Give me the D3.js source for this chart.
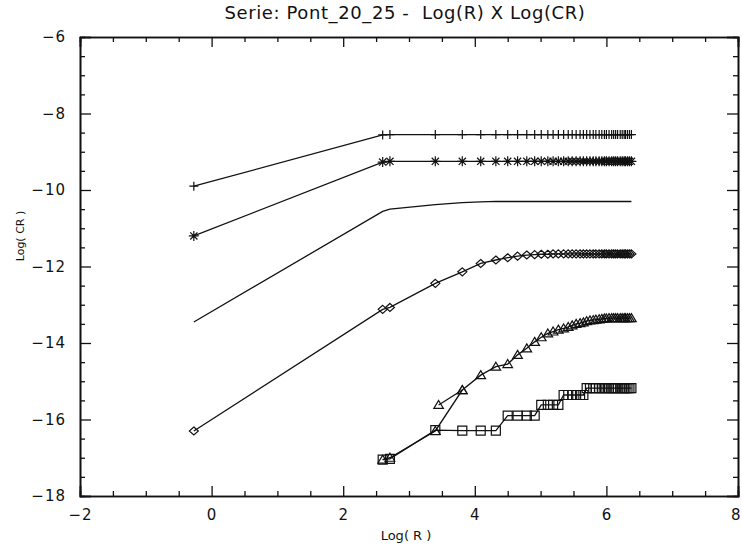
<!DOCTYPE html>
<html><head><meta charset="utf-8">
<script src="https://cdn.jsdelivr.net/npm/d3@7"></script>
<style>body{margin:0;background:#fff}svg{display:block}</style>
</head><body>
<svg id="c" width="742" height="548"></svg>
<script>
const titleText = "Serie: Pont_20_25 -  Log(R) X Log(CR)";
const xLabel = "Log( R )";
const yLabel = "Log( CR )";
const xTicks = [-2, 0, 2, 4, 6, 8];
const yTicks = [-18, -16, -14, -12, -10, -8, -6];

const logR = [-0.27, 2.60, 2.71, 3.40, 3.81, 4.09, 4.32, 4.50, 4.65, 4.79, 4.91, 5.01, 5.11, 5.19, 5.27, 5.35, 5.42, 5.48, 5.54, 5.60, 5.65, 5.70, 5.75, 5.80, 5.84, 5.89, 5.93, 5.97, 6.00, 6.04, 6.08, 6.11, 6.14, 6.17, 6.21, 6.24, 6.27, 6.29, 6.32, 6.35, 6.38];

const plusY = [-9.90, -8.56, -8.55, -8.55, -8.55, -8.55, -8.55, -8.55, -8.55, -8.55, -8.55, -8.55, -8.55, -8.55, -8.55, -8.55, -8.55, -8.55, -8.55, -8.55, -8.55, -8.55, -8.55, -8.55, -8.55, -8.55, -8.55, -8.55, -8.55, -8.55, -8.55, -8.55, -8.55, -8.55, -8.55, -8.55, -8.55, -8.55, -8.55, -8.55, -8.55];
const asteriskY = [-11.20, -9.27, -9.25, -9.25, -9.25, -9.25, -9.25, -9.25, -9.25, -9.25, -9.25, -9.25, -9.25, -9.25, -9.25, -9.25, -9.25, -9.25, -9.25, -9.25, -9.25, -9.25, -9.25, -9.25, -9.25, -9.25, -9.25, -9.25, -9.25, -9.25, -9.25, -9.25, -9.25, -9.25, -9.25, -9.25, -9.25, -9.25, -9.25, -9.25, -9.25];
const plainY = [-13.45, -10.56, -10.50, -10.38, -10.33, -10.31, -10.30, -10.30, -10.30, -10.30, -10.30, -10.30, -10.30, -10.30, -10.30, -10.30, -10.30, -10.30, -10.30, -10.30, -10.30, -10.30, -10.30, -10.30, -10.30, -10.30, -10.30, -10.30, -10.30, -10.30, -10.30, -10.30, -10.30, -10.30, -10.30, -10.30, -10.30, -10.30, -10.30, -10.30, -10.30];
const diamondY = [-16.30, -13.12, -13.07, -12.44, -12.14, -11.92, -11.83, -11.77, -11.73, -11.70, -11.69, -11.68, -11.68, -11.67, -11.67, -11.67, -11.67, -11.67, -11.67, -11.67, -11.67, -11.67, -11.67, -11.67, -11.67, -11.67, -11.67, -11.67, -11.67, -11.67, -11.67, -11.67, -11.67, -11.67, -11.67, -11.67, -11.67, -11.67, -11.67, -11.67, -11.67];
const triangleY = [null, -17.05, -17.00, -16.30, -15.23, -14.84, -14.62, -14.55, -14.31, -14.14, -13.97, -13.85, -13.75, -13.70, -13.65, -13.62, -13.58, -13.54, -13.50, -13.48, -13.46, -13.43, -13.41, -13.40, -13.39, -13.38, -13.37, -13.36, -13.36, -13.35, -13.35, -13.35, -13.35, -13.35, -13.35, -13.35, -13.35, -13.35, -13.35, -13.35, -13.35];
const triangleBX = [3.45, 3.81];
const triangleBY = [-15.62, -15.23];
const squareY = [null, -17.05, -17.03, -16.28, -16.29, -16.29, -16.29, -15.90, -15.90, -15.90, -15.90, -15.62, -15.62, -15.62, -15.62, -15.36, -15.36, -15.36, -15.36, -15.36, -15.36, -15.18, -15.18, -15.18, -15.18, -15.18, -15.18, -15.18, -15.18, -15.18, -15.18, -15.18, -15.18, -15.18, -15.18, -15.18, -15.18, -15.18, -15.18, -15.18, -15.18];

const L = 80, R = 738, T = 37, B = 496;
const FONT = "DejaVu Sans, Liberation Sans, sans-serif";
const INK = "#111";

const svg = d3.select("#c");
const x = d3.scaleLinear().domain([-2, 8]).range([L, R]);
const y = d3.scaleLinear().domain([-18, -6]).range([B, T]);

const xMinor = d3.range(-2, 8.001, 0.5).filter(v => !xTicks.includes(v));
const yMinor = d3.range(-18, -5.999, 0.5).filter(v => !yTicks.includes(v));
const fmt = v => (v < 0 ? "\u2212" : "") + Math.abs(v);

function styleAxis(g) {
  g.select(".domain").attr("stroke", INK).attr("stroke-width", 1.6);
  g.selectAll(".tick line").attr("stroke", INK).attr("stroke-width", 1.3);
  g.selectAll(".tick text").attr("font-family", FONT).attr("font-size", 15)
    .attr("letter-spacing", 1).attr("fill", INK);
}

// bottom
const xAxisG = svg.append("g").attr("transform", `translate(0,${B})`)
  .call(d3.axisBottom(x).tickValues(xTicks).tickSize(-10).tickPadding(13).tickFormat(fmt))
  .call(styleAxis);
// keep the last label (8) inside the window, as in the reference where it sits on the edge
xAxisG.selectAll(".tick text").filter(d => d === 8)
  .attr("text-anchor", "end").attr("dx", 3);
svg.append("g").attr("transform", `translate(0,${B})`)
  .call(d3.axisBottom(x).tickValues(xMinor).tickSize(-5).tickFormat(""))
  .call(styleAxis);
// top
svg.append("g").attr("transform", `translate(0,${T})`)
  .call(d3.axisTop(x).tickValues(xTicks).tickSize(-10).tickFormat(""))
  .call(styleAxis);
svg.append("g").attr("transform", `translate(0,${T})`)
  .call(d3.axisTop(x).tickValues(xMinor).tickSize(-5).tickFormat(""))
  .call(styleAxis);
// left
svg.append("g").attr("transform", `translate(${L},0)`)
  .call(d3.axisLeft(y).tickValues(yTicks).tickSize(-11).tickPadding(14).tickFormat(fmt))
  .call(styleAxis);
svg.append("g").attr("transform", `translate(${L},0)`)
  .call(d3.axisLeft(y).tickValues(yMinor).tickSize(-5).tickFormat(""))
  .call(styleAxis);
// right
svg.append("g").attr("transform", `translate(${R},0)`)
  .call(d3.axisRight(y).tickValues(yTicks).tickSize(-11).tickFormat(""))
  .call(styleAxis);
svg.append("g").attr("transform", `translate(${R},0)`)
  .call(d3.axisRight(y).tickValues(yMinor).tickSize(-5).tickFormat(""))
  .call(styleAxis);

// titles
svg.append("text").attr("x", 405).attr("y", 19).attr("text-anchor", "middle")
  .style("white-space", "pre").attr("letter-spacing", 0.6)
  .attr("font-family", FONT).attr("font-size", 18).attr("fill", INK).text(titleText);
svg.append("text").attr("x", 406).attr("y", 540).attr("text-anchor", "middle")
  .style("white-space", "pre")
  .attr("font-family", FONT).attr("font-size", 13).attr("fill", INK).text(xLabel);
svg.append("text").attr("transform", `translate(24,236) rotate(-90)`)
  .style("white-space", "pre")
  .attr("text-anchor", "middle").attr("font-family", FONT).attr("font-size", 11).attr("fill", INK).text(yLabel);

// markers
const markers = {
  plus: "M-4.5,0H4.5M0,-4.5V4.5",
  asterisk: "M-5,0H5M0,-5V5M-3.6,-3.6L3.6,3.6M-3.6,3.6L3.6,-3.6",
  diamond: "M0,-4L4.5,0L0,4L-4.5,0Z",
  triangle: "M0,-4.5L4.8,3.5L-4.8,3.5Z",
  square: "M-4.5,-4.5H4.5V4.5H-4.5Z",
  none: null
};

const series = [
  {ys: plusY, xs: logR, m: "plus"},
  {ys: asteriskY, xs: logR, m: "asterisk"},
  {ys: plainY, xs: logR, m: "none"},
  {ys: diamondY, xs: logR, m: "diamond"},
  {ys: triangleY, xs: logR, m: "triangle"},
  {ys: triangleBY, xs: triangleBX, m: "triangle"},
  {ys: squareY, xs: logR, m: "square"}
];

const line = d3.line().x(d => x(d[0])).y(d => y(d[1]));
const plot = svg.append("g");
series.forEach(s => {
  const pts = s.xs.map((v, i) => [v, s.ys[i]]).filter(p => p[1] !== null);
  plot.append("path").attr("d", line(pts)).attr("fill", "none")
    .attr("stroke", INK).attr("stroke-width", 1.3);
  if (markers[s.m]) {
    plot.selectAll(null).data(pts).enter().append("path")
      .attr("transform", d => `translate(${x(d[0])},${y(d[1])})`)
      .attr("d", markers[s.m]).attr("fill", "none")
      .attr("stroke", INK).attr("stroke-width", 1.2);
  }
});
</script>
</body></html>
